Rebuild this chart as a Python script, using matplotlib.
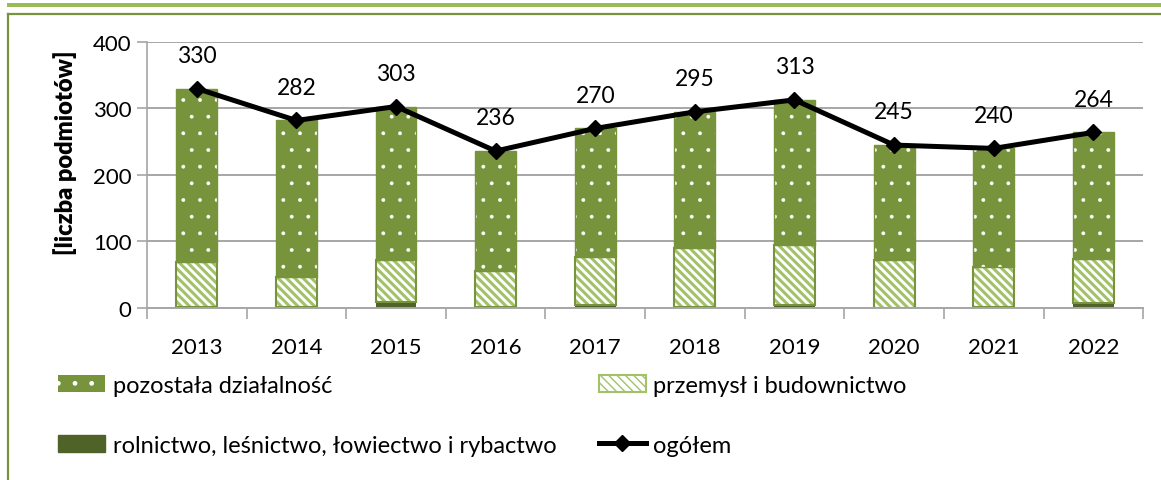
import matplotlib
matplotlib.use('Agg')
import matplotlib.pyplot as plt
from matplotlib.patches import Patch, Rectangle
from matplotlib.lines import Line2D
import numpy as np

# --- DATA ---
years = ['2013', '2014', '2015', '2016', '2017', '2018', '2019', '2020', '2021', '2022']
ogolem = [330, 282, 303, 236, 270, 295, 313, 245, 240, 264]
rolnictwo = [1, 1, 9, 2, 5, 2, 5, 0, 2, 7]
przemysl = [68, 46, 63, 54, 72, 88, 89, 72, 59, 66]
pozostala = [o - r - p for o, r, p in zip(ogolem, rolnictwo, przemysl)]

labels = ['pozostała działalność', 'przemysł i budownictwo',
          'rolnictwo, leśnictwo, łowiectwo i rybactwo', 'ogółem']

# --- STYLE ---
GREEN = '#77933C'
LIGHT = '#A3C16A'
DARK = '#4F6228'
GRID = '#A6A6A6'
FS = 16
plt.rcParams['font.family'] = ['Lato', 'DejaVu Sans']

fig = plt.figure(figsize=(11.61, 4.81), dpi=100)
ax = fig.add_axes([0.1266, 0.3576, 0.858, 0.553])

x = np.arange(len(years))
w = 0.41

bot1 = np.array(rolnictwo)
bot2 = bot1 + np.array(przemysl)

ax.bar(x, rolnictwo, w, color=DARK, lw=0, zorder=2)
# industry: white with diagonal stripes
with plt.rc_context({'hatch.linewidth': 2.2}):
    ax.bar(x, przemysl, w, bottom=bot1, facecolor='white', edgecolor=LIGHT,
           hatch='\\\\\\\\', lw=0, zorder=2)
ax.bar(x, przemysl, w, bottom=bot1, facecolor='none', edgecolor=GREEN,
       lw=1.5, zorder=2)
# other activity: green with white dots
with plt.rc_context({'hatch.linewidth': 0.3}):
    ax.bar(x, pozostala, w, bottom=bot2, facecolor=GREEN, edgecolor='white',
           hatch='.', lw=0, zorder=2)
ax.bar(x, pozostala, w, bottom=bot2, facecolor='none', edgecolor=GREEN,
       lw=1.0, zorder=2)

ax.plot(x, ogolem, color='black', lw=3.6, marker='D', ms=8, zorder=4)
for xi, v in zip(x, ogolem):
    ax.annotate(str(v), (xi, v), xytext=(0, 24), textcoords='offset points',
                ha='center', va='center', fontsize=FS + 0.5)

ax.set_xlim(-0.5, len(years) - 0.5)
ax.set_ylim(0, 400)
ax.set_yticks([0, 100, 200, 300, 400])
ax.tick_params(axis='y', labelsize=FS, length=7, color=GRID, width=1.2, pad=4)
ax.yaxis.grid(True, color=GRID, lw=1.4, zorder=0)
ax.set_axisbelow(True)

# category boundaries as ticks, labels at centres
ax.set_xticks(np.arange(len(years) + 1) - 0.5)
ax.set_xticklabels([])
ax.tick_params(axis='x', which='major', length=8, color=GRID, width=1.2, direction='out')
ax.set_xticks(x, minor=True)
ax.set_xticklabels(years, minor=True)
ax.tick_params(axis='x', which='minor', length=0, labelsize=FS, pad=21)

for s in ['top', 'right']:
    ax.spines[s].set_visible(False)
ax.spines['left'].set_color(GRID)
ax.spines['bottom'].set_color(GRID)
ax.spines['left'].set_linewidth(1.2)
ax.spines['bottom'].set_linewidth(1.4)

fig.text(0.056, 0.682, '[liczba podmiotów]', rotation=90, ha='center', va='center',
         fontsize=FS + 1, fontweight='heavy')

# legend
with plt.rc_context({'hatch.linewidth': 0.3}):
    h_poz = Patch(facecolor=GREEN, edgecolor='white', hatch='.', lw=0)
with plt.rc_context({'hatch.linewidth': 2.0}):
    h_prz = Patch(facecolor='white', edgecolor=LIGHT, hatch='\\\\\\\\', lw=1.5)
handles = [
    h_poz,
    Patch(facecolor=DARK, edgecolor=DARK),
    h_prz,
    Line2D([], [], color='black', lw=3.6, marker='D', ms=8),
]
leg = fig.legend(handles, [labels[0], labels[2], labels[1], labels[3]],
                 loc='upper left', bbox_to_anchor=(0.042, 0.238), ncol=2,
                 frameon=False, fontsize=FS + 1, handlelength=2.0, handleheight=0.75,
                 handletextpad=0.3, labelspacing=1.65, columnspacing=1.8,
                 borderaxespad=0)

# decorative frame
fig.add_artist(Rectangle((7 / 1161, 1 - 7.5 / 481), 1, 3.5 / 481, transform=fig.transFigure,
                         facecolor='#9BBB59', edgecolor='none'))
fig.add_artist(Line2D([7.5 / 1161, 1], [1 - 14.5 / 481] * 2, transform=fig.transFigure,
                      color=GREEN, lw=1.6))
fig.add_artist(Line2D([7.5 / 1161] * 2, [0, 1 - 14.5 / 481], transform=fig.transFigure,
                      color=GREEN, lw=1.6))

fig.savefig('out.png', dpi=100)
